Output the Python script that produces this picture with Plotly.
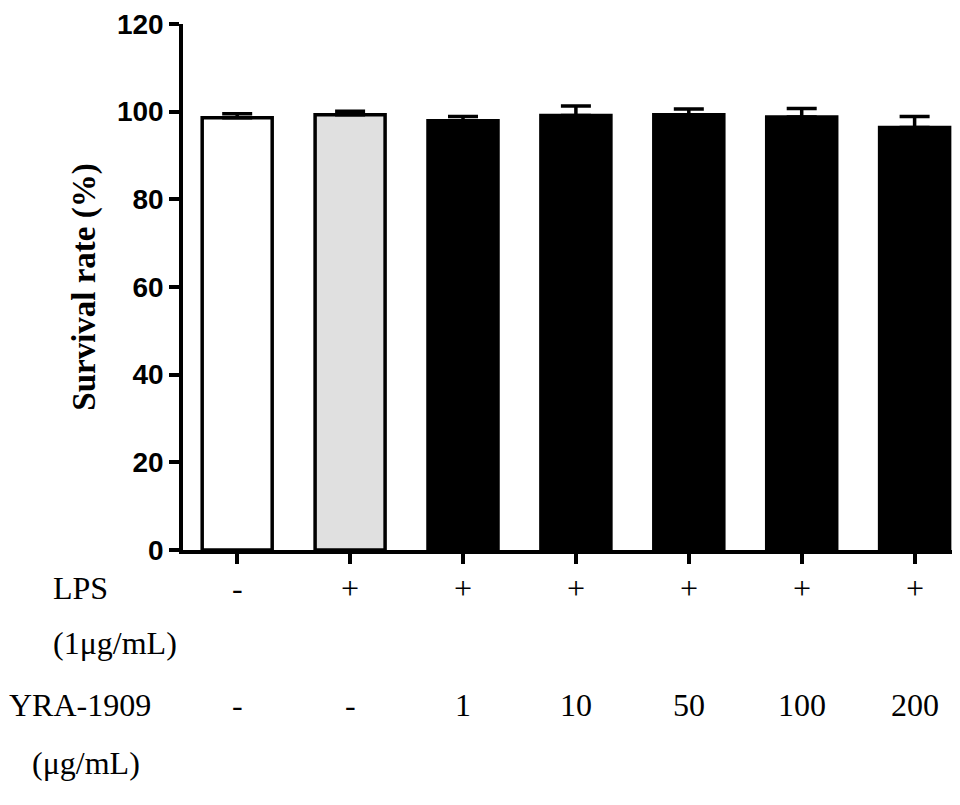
import plotly.graph_objects as go

groups = ["g1", "g2", "g3", "g4", "g5", "g6", "g7"]
survival = [98.6, 99.3, 97.9, 99.1, 99.3, 98.8, 96.4]
err = [0.9, 0.8, 1.0, 2.2, 1.3, 1.9, 2.5]
colors = ["white", "#e0e0e0", "black", "black", "black", "black", "black"]
lps = ["-", "+", "+", "+", "+", "+", "+"]
yra = ["-", "-", "1", "10", "50", "100", "200"]

fig = go.Figure()
fig.add_trace(go.Bar(
    x=list(range(len(groups))), y=survival, width=0.62,
    marker=dict(color=colors, line=dict(color="black", width=3.5)),
    error_y=dict(type="data", array=err, arrayminus=[0]*len(err), color="black", thickness=3.5, width=15),
))

serif = dict(family="Liberation Serif", size=32, color="black")
ann = []
for i, (a, b) in enumerate(zip(lps, yra)):
    ann.append(dict(x=i, y=-0.110, xref="x", yref="paper", text=a, showarrow=False, font=serif))
    ann.append(dict(x=i, y=-0.333, xref="x", yref="paper", text=b, showarrow=False, font=serif))
for txt, xx, yy in [("LPS", -0.172, -0.110), ("(1μg/mL)", -0.172, -0.215),
                    ("YRA-1909", -0.228, -0.333), ("(μg/mL)", -0.199, -0.443)]:
    ann.append(dict(x=xx, y=yy, xref="paper", yref="paper", text=txt, showarrow=False,
                    xanchor="left", font=serif))

fig.update_layout(
    width=960, height=805, plot_bgcolor="white", paper_bgcolor="white",
    margin=dict(l=175, r=15, t=16, b=263), showlegend=False, annotations=ann,
    xaxis=dict(range=[-0.48, 6.34], showline=True, linecolor="black", linewidth=3.5, automargin=False,
               ticks="outside", ticklen=10, tickwidth=3.5, tickcolor="black",
               tickvals=list(range(len(groups))), showticklabels=False, showgrid=False),
    yaxis=dict(range=[0, 120], dtick=20, showline=True, linecolor="black", linewidth=3.5, automargin=False,
               ticks="outside", ticklen=10, tickwidth=3.5, tickcolor="black", showgrid=False,
               zeroline=False, tickfont=dict(family="Liberation Sans", size=28, color="black", weight="bold"),
               title=dict(text="<b>Survival rate (%)</b>", standoff=12,
                          font=dict(family="Liberation Serif", size=33, color="black"))),
)
fig.write_html("out.html")
